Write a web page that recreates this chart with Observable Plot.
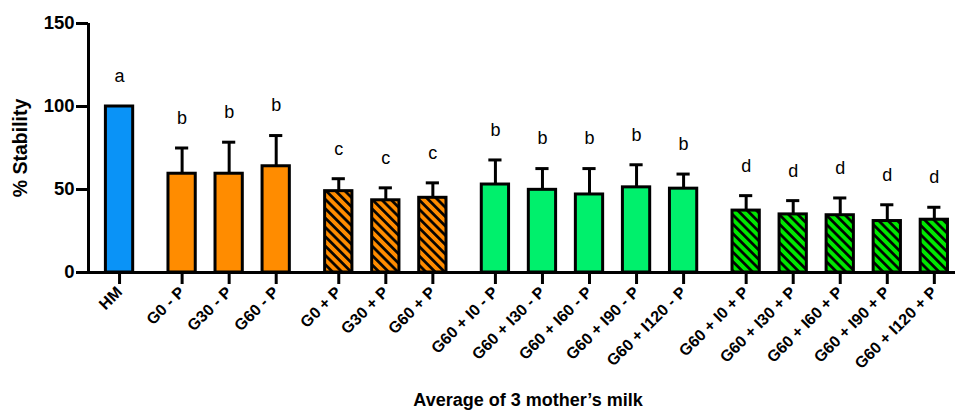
<!DOCTYPE html>
<html>
<head>
<meta charset="utf-8">
<script src="https://cdn.jsdelivr.net/npm/d3@7"></script>
<script src="https://cdn.jsdelivr.net/npm/@observablehq/plot@0.6"></script>
<style>
  html, body { margin: 0; padding: 0; background: #fff; }
  #chart { width: 955px; height: 412px; }
</style>
</head>
<body>
<div id="chart"></div>
<script>
// ---- data ----
const categories = [
  "HM",
  "G0 - P", "G30 - P", "G60 - P",
  "G0 + P", "G30 + P", "G60 + P",
  "G60 + I0 - P", "G60 + I30 - P", "G60 + I60 - P", "G60 + I90 - P", "G60 + I120 - P",
  "G60 + I0 + P", "G60 + I30 + P", "G60 + I60 + P", "G60 + I90 + P", "G60 + I120 + P"
];
const groups = [
  "HM",
  "G - P", "G - P", "G - P",
  "G + P", "G + P", "G + P",
  "G60 + I - P", "G60 + I - P", "G60 + I - P", "G60 + I - P", "G60 + I - P",
  "G60 + I + P", "G60 + I + P", "G60 + I + P", "G60 + I + P", "G60 + I + P"
];
const means  = [100, 59.5, 59.5, 64, 49, 43.5, 45, 53, 49.8, 47, 51.3, 50.5, 37.3, 35, 34.5, 31, 31.8];
const errors = [0, 15.5, 19, 18.5, 7.5, 7.5, 9, 14.8, 12.8, 15.6, 13.6, 8.8, 9, 8.3, 10.4, 9.8, 7.5];
const letters = ["a", "b", "b", "b", "c", "c", "c", "b", "b", "b", "b", "b", "d", "d", "d", "d", "d"];
const yTicks = [0, 50, 100, 150];
const yLabel = "% Stability";
const xLabel = "Average of 3 mother\u2019s milk";

// ---- styling ----
const groupNames = [...new Set(groups)];
const groupFills = ["#0a93f7", "#ff8c00", "url(#hatch-orange)", "#00f06c", "url(#hatch-green)"];
const gapFactor = 0.33;      // extra spacing between groups (in bar steps)
const halfBar = 0.29;
const halfCap = 0.14;

const rows = categories.map((c, i) => ({
  cat: c,
  group: groups[i],
  pos: i + groupNames.indexOf(groups[i]) * gapFactor,
  mean: means[i],
  err: errors[i],
  letter: letters[i]
}));
const labelAt = new Map(rows.map(d => [d.pos, d.cat]));
const xDomain = [-0.66, rows[rows.length - 1].pos + 0.45];

const font = "'Liberation Sans', Arial, Helvetica, sans-serif";

const svg = Plot.plot({
  width: 955,
  height: 412,
  marginLeft: 88,
  marginRight: 0,
  marginTop: 23,
  marginBottom: 140,
  style: { fontFamily: font, background: "#fff", color: "#000" },
  x: { type: "linear", domain: xDomain, axis: null },
  y: { domain: [0, 150], axis: null },
  color: { type: "ordinal", domain: groupNames, range: groupFills },
  marks: [
    // error bars (upper only)
    Plot.ruleX(rows.filter(d => d.err > 0), { x: "pos", y1: "mean", y2: d => d.mean + d.err, stroke: "#000", strokeWidth: 3 }),
    Plot.ruleY(rows.filter(d => d.err > 0), { x1: d => d.pos - halfCap, x2: d => d.pos + halfCap, y: d => d.mean + d.err, stroke: "#000", strokeWidth: 3 }),
    // bars
    Plot.rectY(rows, { x1: d => d.pos - halfBar, x2: d => d.pos + halfBar, y1: 0, y2: "mean", fill: "group", stroke: "#000", strokeWidth: 3 }),
    // significance letters
    Plot.text(rows, { x: "pos", y: d => d.mean + d.err + 18, text: "letter", fontSize: 18, fill: "#000" }),
    // axes
    Plot.axisY({ ticks: yTicks, tickSize: 12, tickPadding: 2, fontSize: 18.5, fontWeight: "bold", strokeWidth: 3, label: null }),
    Plot.axisX({ ticks: rows.map(d => d.pos), tickFormat: p => labelAt.get(p), tickRotate: -45, tickSize: 12, tickPadding: 5, fontSize: 16, fontWeight: "bold", strokeWidth: 3, label: null }),
    Plot.ruleX([xDomain[0]], { stroke: "#000", strokeWidth: 3 }),
    Plot.ruleY([0], { stroke: "#000", strokeWidth: 3 }),
    // axis titles
    Plot.text([yLabel], { text: d => d, frameAnchor: "left", textAnchor: "middle", lineAnchor: "middle", rotate: -90, dx: -68, fontSize: 19.5, fontWeight: "bold", fill: "#000" }),
    Plot.text([xLabel], { text: d => d, frameAnchor: "bottom", textAnchor: "middle", lineAnchor: "middle", dx: 6, dy: 128, fontSize: 18, fontWeight: "bold", fill: "#000" })
  ]
});

// hatch patterns
const defs = d3.select(svg).insert("defs", ":first-child");
function hatch(id, color) {
  const s = 6.6;
  const p = defs.append("pattern")
    .attr("id", id)
    .attr("patternUnits", "userSpaceOnUse")
    .attr("width", s).attr("height", s)
    .attr("patternTransform", "rotate(-45)");
  p.append("rect").attr("width", s).attr("height", s).attr("fill", color);
  p.append("line").attr("x1", s / 2).attr("x2", s / 2).attr("y1", 0).attr("y2", s)
    .attr("stroke", "#000").attr("stroke-width", 2.7);
}
hatch("hatch-orange", "#ff8c00");
hatch("hatch-green", "#00e800");

document.getElementById("chart").appendChild(svg);
</script>
</body>
</html>
